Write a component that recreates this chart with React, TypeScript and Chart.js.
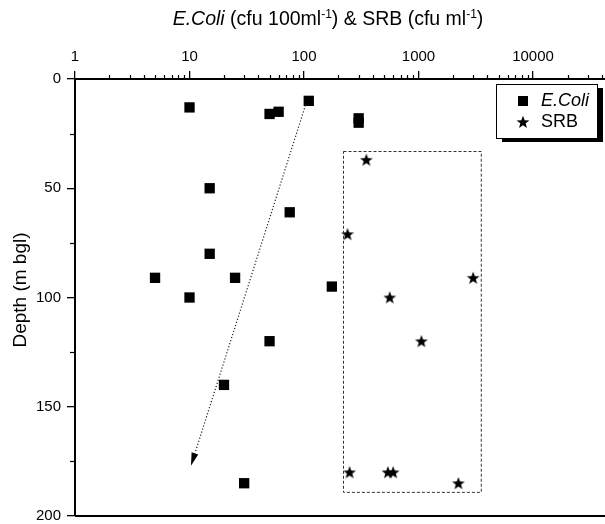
import React, { useEffect, useRef } from "react";
import { Chart, registerables } from "chart.js";
Chart.register(...registerables);

// E.Coli (cfu 100ml-1) vs depth (m bgl)
const ecoliCount = [10, 50, 60, 110, 300, 300, 15, 75, 15, 5, 25, 175, 10, 50, 20, 30];
const ecoliDepth = [13, 16, 15, 10, 18, 20, 50, 61, 80, 91, 91, 95, 100, 120, 140, 185];
// SRB (cfu ml-1) vs depth
const srbCount = [350, 240, 3000, 560, 1060, 250, 540, 600, 2230];
const srbDepth = [37, 71, 91, 100, 120, 180, 180, 180, 185];
// axis ticks
const xTickValues = [1, 10, 100, 1000, 10000];
const yTickValues = [0, 50, 100, 150, 200];
const yMinorValues = [25, 75, 125, 175];
// annotations (data coordinates)
const boxCount = [218, 3480];
const boxDepth = [33, 189];
const trendCount = [103, 10.3];
const trendDepth = [12, 177];

const FONT = 'Arial, "Liberation Sans", sans-serif';

function makeStar(size: number): HTMLCanvasElement {
  const c = document.createElement("canvas");
  c.width = size;
  c.height = size;
  const ctx = c.getContext("2d")!;
  const cx = size / 2, cy = size / 2 + 0.5;
  const ro = size / 2 - 0.3, ri = ro * 0.42;
  ctx.beginPath();
  for (let i = 0; i < 10; i++) {
    const r = i % 2 === 0 ? ro : ri;
    const a = -Math.PI / 2 + (i * Math.PI) / 5;
    const x = cx + r * Math.cos(a), y = cy + r * Math.sin(a);
    if (i === 0) ctx.moveTo(x, y); else ctx.lineTo(x, y);
  }
  ctx.closePath();
  ctx.fillStyle = "#000";
  ctx.fill();
  return c;
}

export default function App() {
  const ref = useRef<HTMLCanvasElement | null>(null);
  useEffect(() => {
    document.body.style.margin = "0";
    const star = makeStar(14);
    const annot = {
      id: "annot",
      afterDatasetsDraw(chart: any) {
        const ctx = chart.ctx as CanvasRenderingContext2D;
        const xs = chart.scales.x, ys = chart.scales.y;
        const ca = chart.chartArea;
        ctx.save();
        // minor x ticks (outward, above top axis)
        ctx.strokeStyle = "#000";
        ctx.lineWidth = 1.2;
        for (let d = 1; d <= 10000; d *= 10) {
          for (let k = 2; k <= 9; k++) {
            const v = k * d;
            if (v > xs.max) break;
            const px = Math.round(xs.getPixelForValue(v)) + 0.5;
            ctx.beginPath();
            ctx.moveTo(px, ca.top);
            ctx.lineTo(px, ca.top - 4);
            ctx.stroke();
          }
        }
        // minor y ticks
        for (const v of yMinorValues) {
          const py = Math.round(ys.getPixelForValue(v)) + 0.5;
          ctx.beginPath();
          ctx.moveTo(ca.left, py);
          ctx.lineTo(ca.left - 5, py);
          ctx.stroke();
        }
        // bottom frame line
        ctx.lineWidth = 2;
        ctx.beginPath();
        ctx.moveTo(ca.left, ca.bottom);
        ctx.lineTo(ca.right, ca.bottom);
        ctx.stroke();
        // dashed box
        const bx0 = xs.getPixelForValue(boxCount[0]);
        const bx1 = xs.getPixelForValue(boxCount[1]);
        const by0 = ys.getPixelForValue(boxDepth[0]);
        const by1 = ys.getPixelForValue(boxDepth[1]);
        ctx.lineWidth = 1;
        ctx.setLineDash([3, 2]);
        ctx.strokeStyle = "#333";
        ctx.strokeRect(Math.round(bx0) + 0.5, Math.round(by0) + 0.5, bx1 - bx0, by1 - by0);
        // dotted trend arrow
        const ax0 = xs.getPixelForValue(trendCount[0]);
        const ay0 = ys.getPixelForValue(trendDepth[0]);
        const ax1 = xs.getPixelForValue(trendCount[1]);
        const ay1 = ys.getPixelForValue(trendDepth[1]);
        const ang = Math.atan2(ay1 - ay0, ax1 - ax0);
        const hl = 13, hw = 3.5;
        const bxh = ax1 - hl * Math.cos(ang), byh = ay1 - hl * Math.sin(ang);
        ctx.setLineDash([1.2, 2]);
        ctx.lineWidth = 1.2;
        ctx.strokeStyle = "#222";
        ctx.beginPath();
        ctx.moveTo(ax0, ay0);
        ctx.lineTo(bxh, byh);
        ctx.stroke();
        ctx.setLineDash([]);
        ctx.fillStyle = "#000";
        ctx.beginPath();
        ctx.moveTo(ax1, ay1);
        ctx.lineTo(bxh - hw * Math.sin(ang), byh + hw * Math.cos(ang));
        ctx.lineTo(bxh + hw * Math.sin(ang), byh - hw * Math.cos(ang));
        ctx.closePath();
        ctx.fill();
        // legend
        const lx = 496, ly = 84, lw = 101, lh = 54;
        ctx.fillStyle = "#000";
        ctx.fillRect(lx + 6, ly + 4, lw, lh);
        ctx.fillStyle = "#fff";
        ctx.fillRect(lx, ly, lw, lh);
        ctx.strokeStyle = "#000";
        ctx.lineWidth = 1;
        ctx.strokeRect(lx + 0.5, ly + 0.5, lw, lh);
        ctx.fillStyle = "#000";
        ctx.fillRect(523 - 5, 101 - 5, 10, 10);
        ctx.drawImage(star, 523 - 7, 122 - 7);
        ctx.textBaseline = "middle";
        ctx.textAlign = "left";
        ctx.font = `italic 18px ${FONT}`;
        ctx.fillText("E.Coli", 541, 101);
        ctx.font = `18px ${FONT}`;
        ctx.fillText("SRB", 541, 122);
        // title
        const segs = [
          { t: "E.Coli", it: true, sup: false },
          { t: " (cfu 100ml", it: false, sup: false },
          { t: "-1", it: false, sup: true },
          { t: ") & SRB (cfu ml", it: false, sup: false },
          { t: "-1", it: false, sup: true },
          { t: ")", it: false, sup: false },
        ];
        const fontFor = (s: any) =>
          s.sup ? `12px ${FONT}` : `${s.it ? "italic " : ""}19.5px ${FONT}`;
        let total = 0;
        for (const s of segs) {
          ctx.font = fontFor(s);
          total += ctx.measureText(s.t).width;
        }
        let tx = 328 - total / 2;
        ctx.textBaseline = "alphabetic";
        for (const s of segs) {
          ctx.font = fontFor(s);
          ctx.fillText(s.t, tx, s.sup ? 18 : 25);
          tx += ctx.measureText(s.t).width;
        }
        // y title
        ctx.save();
        ctx.translate(26, 290);
        ctx.rotate(-Math.PI / 2);
        ctx.textAlign = "center";
        ctx.textBaseline = "alphabetic";
        ctx.font = `19px ${FONT}`;
        ctx.fillText("Depth (m bgl)", 0, 0);
        ctx.restore();
        ctx.restore();
      },
    };
    const chart = new Chart(ref.current!, {
      type: "scatter",
      data: {
        datasets: [
          {
            label: "E.Coli",
            data: ecoliCount.map((c, i) => ({ x: c, y: ecoliDepth[i] })),
            pointStyle: "rect",
            pointRadius: 7.3,
            backgroundColor: "#000",
            borderColor: "#000",
            borderWidth: 0,
          },
          {
            label: "SRB",
            data: srbCount.map((c, i) => ({ x: c, y: srbDepth[i] })),
            pointStyle: star as any,
            pointRadius: 7,
            backgroundColor: "#000",
            borderColor: "#000",
          },
        ],
      },
      options: {
        animation: false,
        responsive: false,
        maintainAspectRatio: false,
        events: [],
        layout: { autoPadding: false, padding: { left: 0, right: 0, top: 0, bottom: 8 } },
        plugins: { legend: { display: false }, tooltip: { enabled: false }, title: { display: false } },
        scales: {
          x: {
            type: "logarithmic",
            position: "top",
            min: 1,
            max: 42500,
            afterFit: (s: any) => {
              s.height = 79;
              s.paddingLeft = 0;
              s.paddingRight = 0;
            },
            afterBuildTicks: (s: any) => {
              s.ticks = xTickValues.map((v) => ({ value: v, major: true }));
            },
            ticks: {
              color: "#000",
              font: { family: FONT, size: 15 },
              padding: 5,
              maxRotation: 0,
              autoSkip: false,
              callback: (v: any) => String(v),
            },
            grid: {
              drawOnChartArea: false,
              drawTicks: true,
              tickLength: 8,
              color: "#000",
              lineWidth: 1.3,
            },
            border: { display: true, color: "#000", width: 2 },
          },
          y: {
            type: "linear",
            reverse: true,
            min: 0,
            max: 200,
            afterFit: (s: any) => {
              s.width = 75;
              s.paddingTop = 0;
              s.paddingBottom = 0;
            },
            afterBuildTicks: (s: any) => {
              s.ticks = yTickValues.map((v) => ({ value: v }));
            },
            ticks: {
              color: "#000",
              font: { family: FONT, size: 15 },
              padding: 6,
            },
            grid: {
              drawOnChartArea: false,
              drawTicks: true,
              tickLength: 8,
              color: "#000",
              lineWidth: 1.3,
            },
            border: { display: true, color: "#000", width: 2 },
          },
        },
      },
      plugins: [annot],
    } as any);
    return () => chart.destroy();
  }, []);
  return (
    <div style={{ width: 605, height: 524, background: "#fff" }}>
      <canvas ref={ref} width={605} height={524} style={{ display: "block" }} />
    </div>
  );
}
